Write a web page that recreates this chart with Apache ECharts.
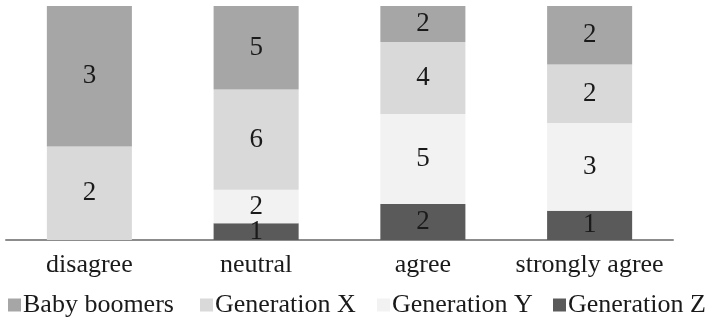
<!DOCTYPE html>
<html>
<head>
<meta charset="utf-8">
<script src="https://cdn.jsdelivr.net/npm/echarts@6/dist/echarts.min.js"></script>
<style>
  html, body { margin: 0; padding: 0; background: #fff; }
  #chart { width: 713px; height: 323px; }
</style>
</head>
<body>
<div id="chart"></div>
<script>
// Response categories and respondent counts per generation
const categories = ['disagree', 'neutral', 'agree', 'strongly agree'];
const babyBoomers = [3, 5, 2, 2];
const generationX = [2, 6, 4, 2];
const generationY = [0, 2, 5, 3];
const generationZ = [0, 1, 2, 1];

const seriesDefs = [
  { name: 'Generation Z', values: generationZ, color: '#5a5a5a' },
  { name: 'Generation Y', values: generationY, color: '#f2f2f2' },
  { name: 'Generation X', values: generationX, color: '#d9d9d9' },
  { name: 'Baby boomers', values: babyBoomers, color: '#a6a6a6' }
];

// Column totals for the 100% stacking
const totals = categories.map((_, i) =>
  seriesDefs.reduce((s, d) => s + d.values[i], 0));

const font = '"Liberation Serif", "Times New Roman", serif';

// One legend entry per block so each key sits at its own offset
const legendItems = [
  { name: 'Baby boomers', left: 8 },
  { name: 'Generation X', left: 200 },
  { name: 'Generation Y', left: 377 },
  { name: 'Generation Z', left: 553 }
];

const chart = echarts.init(document.getElementById('chart'), null, { renderer: 'canvas' });

chart.setOption({
  animation: false,
  backgroundColor: '#ffffff',
  grid: { left: 6, right: 40, top: 6, bottom: 83, containLabel: false },
  legend: legendItems.map(it => ({
    data: [it.name],
    top: 292,
    left: it.left,
    padding: 0,
    icon: 'rect',
    itemWidth: 13,
    itemHeight: 13,
    selectedMode: false,
    textStyle: { fontFamily: font, fontSize: 26, color: '#1a1a1a', padding: [0, 0, 0, -3] }
  })),
  xAxis: {
    type: 'category',
    data: categories,
    axisLine: { show: true, lineStyle: { color: '#8c8c8c', width: 2 } },
    axisTick: { show: false },
    axisLabel: { interval: 0, fontFamily: font, fontSize: 26, color: '#1a1a1a', margin: 12 }
  },
  yAxis: {
    type: 'value',
    min: 0,
    max: 100,
    show: false,
    splitLine: { show: false }
  },
  series: seriesDefs.map(d => ({
    name: d.name,
    type: 'bar',
    stack: 'total',
    barWidth: '51%',
    itemStyle: { color: d.color },
    label: {
      show: true,
      position: 'inside',
      fontFamily: font,
      fontSize: 27,
      color: '#1a1a1a',
      formatter: p => (p.data.raw ? String(p.data.raw) : '')
    },
    data: d.values.map((v, i) => ({ value: v / totals[i] * 100, raw: v }))
  }))
});
</script>
</body>
</html>
